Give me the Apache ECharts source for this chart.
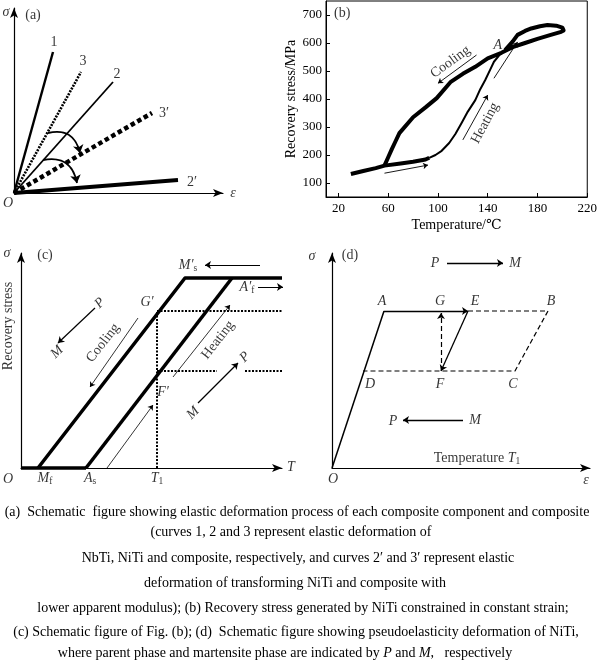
<!DOCTYPE html>
<html><head><meta charset="utf-8">
<script src="https://cdn.jsdelivr.net/npm/echarts@6/dist/echarts.min.js"></script>
<style>html,body{margin:0;padding:0;background:#fff}#c{width:600px;height:664px}</style>
</head><body><div id="c"></div>
<script>
// ===== Panel (a): elastic lines (schematic units) =====
const aLine1  = [[0,0],[39,141]];
const aLine3  = [[0,0],[67,121]];
const aLine2  = [[0,0],[99,111]];
const aLine3p = [[0,0],[138,80]];
const aLine2p = [[0,0],[164,13]];
const aCurvedArrows = [[[34,60],[66,40]],[[29,33],[63,10]]];
const aLabels = [[40,151,'1'],[69,132,'3'],[103,119,'2'],[150,80,'3′'],[178,11,'2′']];
const aAxisText = [[-8,181,'{i|σ}'],[19,178,'(a)'],[-6,-10,'{i|O}'],[219,0,'{i|ε}']];

// ===== Panel (b): recovery stress vs temperature =====
const bXTicks = [20,60,100,140,180,220];
const bYTicks = [100,200,300,400,500,600,700];
const bHeatLow = [[30,132],[40,143],[50,153],[57,162],[70,170],[80,176],[90,184],[93,190]];
const bHeatMid = [[93,190],[98,200],[103,215],[109,243],[114,275],[119,314],[124,355],[130,396],[134,435],[138,468],[142,505],[145,533],[150,560],[154,575]];
const bLoopCool = [[154,575],[160,605],[164,629],[170,643],[175,652],[182,660],[188,664],[195,662],[200,655],[201,645],[199,640],[190,628],[180,615],[170,600],[160,585],[151,565],[140,545],[130,515],[120,490],[110,460],[99,403],[90,370],[80,335],[69,278],[66,250],[63,222],[60,192],[57,162]];
const bArrows = [[[57,135],[92,164]],[[120,254],[140,414]],[[131,557],[100,456]],[[145,474],[164,604]]];
const bText = [[23,707,'(b)',0],[110,532,'Cooling',36],[138,314,'Heating',62],[148,593,'{i|A}',0]];

// ===== Panel (c): schematic of (b) =====
const cBase  = [[0,0],[65,0]];
const cLeft  = [[17,0],[164,190],[261,190]];
const cRight = [[65,0],[211,190]];
const cDotV  = [[136,0],[136,157]];
const cDotG  = [[136,157],[362,157]];
const cDotF1 = [[136,97],[196,97]];
const cDotF2 = [[224,97],[342,97]];
const cArrowsThick = [[[239,203],[184,203]],[[237,181],[262,181]],[[74,160],[37,125]],[[177,65],[217,105]]];
const cArrowsThin  = [[[117,150],[69,81]],[[152,91],[209,163]],[[86,0],[132,63]]];
const cText = [
  [-14,215,'{i|σ}',0],[24,213,'(c)',0],[-13,-11,'{i|O}',0],[270,1,'{i|T}',0],
  [24,-10,'{i|M}{s|f}',0],[69,-10,'{i|A}{s|s}',0],[136,-10,'{i|T}{s|1}',0],
  [126,166,'{i|G′}',0],[142,76,'{i|F′}',0],[167,203,'{i|M′}{s|s}',0],[226,181,'{i|A′}{s|f}',0],
  [79,165,'{i|P}',45],[36,116,'{i|M}',45],[82,125,'Cooling',52],[197,128,'Heating',52],
  [172,55,'{i|M}',45],[224,111,'{i|P}',45],[-13,142,'Recovery stress',90]
];

// ===== Panel (d): pseudoelasticity =====
const dOA = [[0,0],[52,157]];
const dDashed = [[[136,157],[216,157],[183,97],[31,97]]];
const dArrowsSolid = [[[52,157],[136,157]],[[136,157],[109,97]],[[115,205],[171,205]],[[131,48],[71,48]]];
const dArrowsDashed = [[[109,97],[109,155]]];
const dText = [
  [-20,212,'{i|σ}'],[18,213,'(d)'],[1,-11,'{i|O}'],[254,-12,'{i|ε}'],
  [50,167,'{i|A}'],[108,167,'{i|G}'],[143,167,'{i|E}'],[219,167,'{i|B}'],
  [38,84,'{i|D}'],[108,84,'{i|F}'],[181,84,'{i|C}'],
  [103,205,'{i|P}'],[183,205,'{i|M}'],[61,47,'{i|P}'],[143,48,'{i|M}'],[145,10,'Temperature {i|T}{s|1}']
];

const captionLines = [
  '(a)  Schematic  figure showing elastic deformation process of each composite component and composite',
  '(curves 1, 2 and 3 represent elastic deformation of',
  'NbTi, NiTi and composite, respectively, and curves 2′ and 3′ represent elastic',
  'deformation of transforming NiTi and composite with',
  'lower apparent modulus); (b) Recovery stress generated by NiTi constrained in constant strain;',
  '(c) Schematic figure of Fig. (b); (d)  Schematic figure showing pseudoelasticity deformation of NiTi,',
  'where parent phase and martensite phase are indicated by {i|P} and {i|M},   respectively'
];

// ---------- layout & style ----------
const SERIF = '"Liberation Serif", "DejaVu Serif", serif';
const FS = 14;
const rich = {
  i: {fontFamily: SERIF, fontStyle: 'italic', fontSize: FS, color: '#000'},
  s: {fontFamily: SERIF, fontSize: 9.5, color: '#000', padding: [7,0,0,0]}
};
const grids = [
  {left: 14, top: 8, width: 209, height: 185},
  {left: 326, top: 1, width: 265, height: 196, show: true, borderColor: '#000', borderWidth: 1, backgroundColor: 'transparent'},
  {left: 21, top: 253, width: 261, height: 215},
  {left: 332, top: 253, width: 258, height: 215}
];
function schemAxis(idx, max) {
  return {type: 'value', gridIndex: idx, min: 0, max: max,
    axisLine: {show: true, onZero: false, symbol: ['none','arrow'], symbolSize: [6,10], lineStyle: {color: '#000', width: 1.2}},
    axisTick: {show: false}, axisLabel: {show: false}, splitLine: {show: false}};
}
const xAxes = [schemAxis(0,209),
  {type: 'value', gridIndex: 1, min: 10, max: 220,
   axisLine: {show: true, onZero: false, lineStyle: {color: '#000', width: 1}},
   axisTick: {show: true, inside: true, length: 4, customValues: bXTicks, lineStyle: {color: '#000'}},
   axisLabel: {show: true, customValues: bXTicks, color: '#000', fontFamily: SERIF, fontSize: 13, margin: 5},
   splitLine: {show: false},
   name: 'Temperature/℃', nameLocation: 'middle', nameGap: 21, nameTextStyle: {color: '#000', fontFamily: SERIF, fontSize: FS}},
  schemAxis(2,261), schemAxis(3,258)];
const yAxes = [schemAxis(0,185),
  {type: 'value', gridIndex: 1, min: 50, max: 750,
   axisLine: {show: true, onZero: false, lineStyle: {color: '#000', width: 1}},
   axisTick: {show: true, inside: true, length: 4, customValues: bYTicks, lineStyle: {color: '#000'}},
   axisLabel: {show: true, customValues: bYTicks, color: '#000', fontFamily: SERIF, fontSize: 13, margin: 4},
   splitLine: {show: false},
   name: 'Recovery stress/MPa', nameLocation: 'middle', nameGap: 26, nameRotate: 90, nameTextStyle: {color: '#000', fontFamily: SERIF, fontSize: FS}},
  schemAxis(2,215), schemAxis(3,215)];

const series = [];
function line(g, data, width, type) {
  series.push({type: 'line', xAxisIndex: g, yAxisIndex: g, data: data, showSymbol: false, symbol: 'none', clip: false,
    silent: true, animation: false, lineStyle: {color: '#000', width: width, type: type || 'solid', cap: 'butt', join: 'round'}});
}
function arrows(g, segs, width, type, curveness, size, sym) {
  series.push({type: 'lines', coordinateSystem: 'cartesian2d', xAxisIndex: g, yAxisIndex: g, polyline: false,
    symbol: sym || ['none','arrow'], symbolSize: size || 7, silent: true, animation: false,
    lineStyle: {color: '#000', width: width, type: type || 'solid', curveness: curveness || 0, opacity: 1},
    data: segs.map(s => ({coords: s}))});
}
function texts(g, items, size) {
  series.push({type: 'scatter', xAxisIndex: g, yAxisIndex: g, symbolSize: 0, clip: false, silent: true, animation: false, z: 10,
    data: items.map(t => ({value: [t[0], t[1]], label: {show: true, position: 'inside', formatter: t[2], rotate: t[3] || 0,
      color: '#000', fontFamily: SERIF, fontSize: size, rich: rich}}))});
}
// panel a
line(0, aLine1, 2.4); line(0, aLine2, 1.8); line(0, aLine3, 2.6, [2,1.2]);
line(0, aLine3p, 4.5, [4.5,3]); line(0, aLine2p, 4);
arrows(0, aCurvedArrows, 1.8, 'solid', 0.5, 8);
texts(0, aLabels, FS); texts(0, aAxisText, FS);
// panel b
line(1, bHeatLow, 4); line(1, bHeatMid, 2); line(1, bLoopCool, 4);
arrows(1, bArrows, 0.9, 'solid', 0, 5);
texts(1, bText, FS);
// panel c
line(2, cBase, 3.5); line(2, cLeft, 3.5); line(2, cRight, 3.5);
line(2, cDotV, 2, [2,1.5]); line(2, cDotG, 2, [2,1.5]); line(2, cDotF1, 2, [2,1.5]); line(2, cDotF2, 2, [2,1.5]);
arrows(2, cArrowsThick, 1.2, 'solid', 0, 6);
arrows(2, cArrowsThin, 0.8, 'solid', 0, 5);
texts(2, cText, FS);
// panel d
line(3, dOA, 1.5);
dDashed.forEach(d => line(3, d, 1.2, [5,3]));
arrows(3, dArrowsSolid, 1.3, 'solid', 0, 6);
arrows(3, dArrowsDashed, 1.2, [5,3], 0, 6);
texts(3, dText, FS);

const capCenters = [297, 291, 298, 295, 303, 296, 285];
const capY = [512, 532, 558, 583, 608, 632, 653];
const graphic = captionLines.map((t, k) => ({type: 'text', x: capCenters[k], y: capY[k], silent: true,
  style: {text: t, fill: '#000', font: FS + 'px ' + SERIF, align: 'center', verticalAlign: 'middle',
    rich: {i: {fontStyle: 'italic', fontFamily: SERIF, fontSize: FS, fill: '#000'}}}}));

const chart = echarts.init(document.getElementById('c'), null, {renderer: 'canvas'});
chart.setOption({animation: false, backgroundColor: '#fff', grid: grids, xAxis: xAxes, yAxis: yAxes, series: series, graphic: graphic});
</script></body></html>
